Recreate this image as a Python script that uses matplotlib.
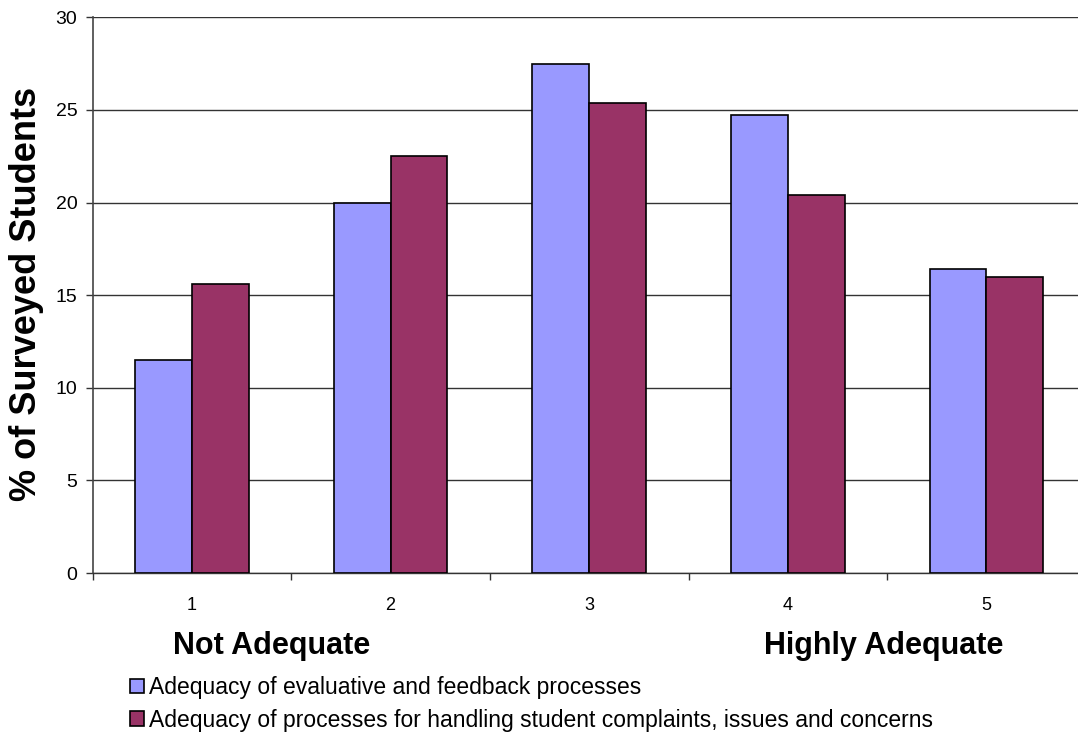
import matplotlib
matplotlib.use("Agg")
import matplotlib.pyplot as plt
from matplotlib.patches import Patch
import numpy as np

plt.rcParams['font.family'] = ['Liberation Sans', 'DejaVu Sans']

# Survey ratings (1 = Not Adequate ... 5 = Highly Adequate)
categories = ["1", "2", "3", "4", "5"]
evaluative_feedback = [11.5, 20.0, 27.5, 24.7, 16.4]
complaints_handling = [15.6, 22.5, 25.4, 20.4, 16.0]
series_labels = [
    "Adequacy of evaluative and feedback processes",
    "Adequacy of processes for handling student complaints, issues and concerns",
]
y_ticks = [0, 5, 10, 15, 20, 25, 30]

blue = "#9999FF"
plum = "#993366"

W, H = 1078, 733
fig = plt.figure(figsize=(W / 100, H / 100), dpi=100)
ax = fig.add_axes([92.7 / W, 1 - 573 / H, (1085.7 - 92.7) / W, (573 - 17.3) / H])

x = np.arange(len(categories))
bw = 1 / 3.5
ax.bar(x - bw / 2, evaluative_feedback, width=bw, color=blue,
       edgecolor="black", linewidth=1.2, zorder=3)
ax.bar(x + bw / 2, complaints_handling, width=bw, color=plum,
       edgecolor="black", linewidth=1.2, zorder=3)

ax.set_xlim(-0.5, len(categories) - 0.5)
ax.set_ylim(0, 30)
ax.set_yticks(y_ticks)
ax.set_yticklabels([str(v) for v in y_ticks], fontsize=14)
ax.yaxis.grid(True, color="#333333", linewidth=1.0, zorder=0)

# category labels centred under bars, tick marks on the boundaries
ax.set_xticks(x)
ax.set_xticklabels(categories, fontsize=13)
ax.tick_params(axis="x", length=0, pad=17)
ax.set_xticks(np.arange(len(categories) + 1) - 0.5, minor=True)
ax.tick_params(axis="x", which="minor", length=5, width=1, color="#333333",
               direction="out")
ax.tick_params(axis="y", length=5, width=1, color="#333333", direction="out",
               pad=6)

for side in ("top", "right"):
    ax.spines[side].set_visible(False)
ax.spines["left"].set_color("#444444")
ax.spines["left"].set_linewidth(1.2)
ax.spines["bottom"].set_color("#333333")
ax.spines["bottom"].set_linewidth(1.0)

fig.text(27 / W, 1 - 294 / H, "% of Surveyed Students", fontsize=26,
         fontweight="bold", rotation=90, ha="center", va="center")

fig.text(272 / W, 1 - 646 / H, "Not Adequate", fontsize=22, fontweight="bold",
         ha="center", va="center")
fig.text(884 / W, 1 - 646 / H, "Highly Adequate", fontsize=22, fontweight="bold",
         ha="center", va="center")

handles = [Patch(facecolor=blue, edgecolor="black", linewidth=1.2),
           Patch(facecolor=plum, edgecolor="black", linewidth=1.2)]
fig.legend(handles, series_labels, loc="upper left",
           bbox_to_anchor=(130 / W, 1 - 676 / H), frameon=False,
           fontsize=16.5, handlelength=0.62, handleheight=0.62,
           handletextpad=0.2, labelspacing=0.43, borderpad=0, borderaxespad=0)

fig.savefig("out.png", dpi=100)
